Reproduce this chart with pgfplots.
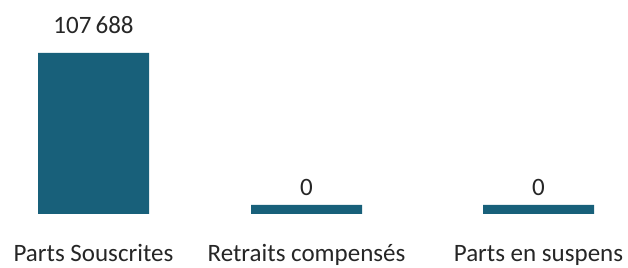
\documentclass[border=0pt]{standalone}
\usepackage{pgfplots}
\pgfplotsset{compat=1.18}
\usepackage{fontspec}
\setmainfont{Carlito}
\definecolor{barteal}{RGB}{24,96,122}
\definecolor{txt}{RGB}{38,38,38}
\begin{document}
\begin{tikzpicture}
\begin{axis}[
  scale only axis,
  width=628bp, height=268bp,
  xmin=0, xmax=628,
  ymin=-36119, ymax=143138,
  axis lines=none,
  ticks=none,
  clip=false,
]
% bars: x position, drawn height (zero values are drawn with a minimal visible height)
\addplot[ybar, bar width=111, fill=barteal, draw=none]
  coordinates {(93.5,107688) (306.5,6020) (538.5,6020)};
% value labels
\addplot[draw=none, nodes near coords, point meta=explicit symbolic,
  nodes near coords style={anchor=base, font=\fontsize{25bp}{28bp}\selectfont, text=txt, inner sep=0pt}]
  table[meta=label] {
x y label
93.5 120396 {107\,688}
306.5 12040 0
538.5 12040 0
};
% category labels
\addplot[draw=none, nodes near coords, point meta=explicit symbolic,
  nodes near coords style={anchor=base, font=\fontsize{25bp}{28bp}\selectfont, text=txt, inner sep=0pt}]
  table[meta=label] {
x y label
93.5 -32100 {Parts Souscrites}
306.5 -32100 {Retraits compensés}
538.5 -32100 {Parts en suspens}
};
\end{axis}
\pgfresetboundingbox
\useasboundingbox (current axis.south west) rectangle (current axis.north east);
\end{tikzpicture}
\end{document}
